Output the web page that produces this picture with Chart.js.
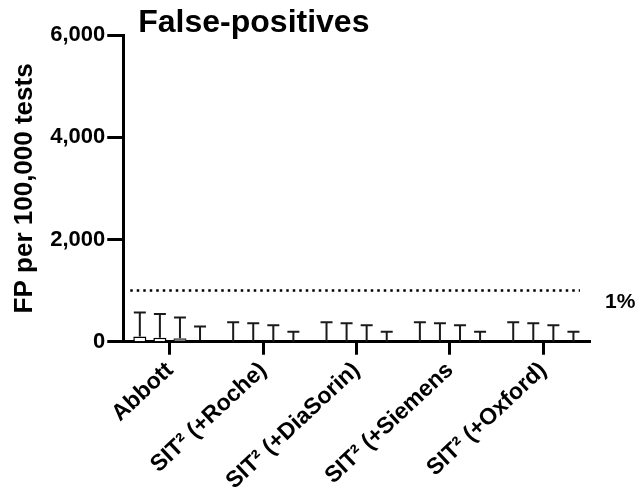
<!DOCTYPE html>
<html>
<head>
<meta charset="utf-8">
<script src="https://cdn.jsdelivr.net/npm/chart.js@4"></script>
<style>
  body { margin: 0; background: #fff; }
  #wrap { width: 635px; height: 497px; position: relative; }
</style>
</head>
<body>
<div id="wrap"><canvas id="fp-chart"></canvas></div>
<script>
// 数据
const categories = ['Abbott', 'SIT² (+Roche)', 'SIT² (+DiaSorin)', 'SIT² (+Siemens', 'SIT² (+Oxford)'];
const fpValues1 = [100, 0, 0, 0, 0];
const fpValues2 = [80, 0, 0, 0, 0];
const fpValues3 = [70, 0, 0, 0, 0];
const fpValues4 = [30, 0, 0, 0, 0];
const fpUpper1 = [570, 380, 380, 380, 380];
const fpUpper2 = [540, 360, 360, 360, 360];
const fpUpper3 = [475, 320, 320, 320, 320];
const fpUpper4 = [300, 196, 196, 196, 196];
const yTicks = [0, 2000, 4000, 6000];
const thresholdValue = 1000;
const thresholdLabel = '1%';
const chartTitle = 'False-positives';
const yTitle = 'FP per 100,000 tests';

const FONT = '"Liberation Sans", Arial, sans-serif';
const upperBounds = [fpUpper1, fpUpper2, fpUpper3, fpUpper4];

// 误差线 + 虚线 + 标题
const extrasPlugin = {
    id: 'extras',
    afterDatasetsDraw(chart) {
        const ctx = chart.ctx;
        const yScale = chart.scales.y;
        const area = chart.chartArea;

        // 误差线
        ctx.save();
        ctx.strokeStyle = '#1a1a1a';
        ctx.lineWidth = 2;
        chart.data.datasets.forEach((ds, di) => {
            const meta = chart.getDatasetMeta(di);
            meta.data.forEach((bar, i) => {
                const top = yScale.getPixelForValue(upperBounds[di][i]);
                ctx.beginPath();
                ctx.moveTo(bar.x, bar.y);
                ctx.lineTo(bar.x, top);
                ctx.moveTo(bar.x - 6, top);
                ctx.lineTo(bar.x + 6, top);
                ctx.stroke();
            });
        });
        ctx.restore();

        // 1% 虚线
        const yLine = yScale.getPixelForValue(thresholdValue);
        ctx.save();
        ctx.strokeStyle = '#000';
        ctx.lineWidth = 2.5;
        ctx.setLineDash([2.5, 4]);
        ctx.beginPath();
        ctx.moveTo(area.left + 7, yLine);
        ctx.lineTo(area.right - 10, yLine);
        ctx.stroke();
        ctx.setLineDash([]);
        ctx.fillStyle = '#000';
        ctx.font = 'bold 21px ' + FONT;
        ctx.textAlign = 'left';
        ctx.textBaseline = 'top';
        ctx.fillText(thresholdLabel, area.right + 15, yLine + 1);

        // 标题
        ctx.font = 'bold 32px ' + FONT;
        ctx.textBaseline = 'alphabetic';
        ctx.fillText(chartTitle, area.left + 15, 32);
        ctx.restore();
    }
};

const ctx = document.getElementById('fp-chart').getContext('2d');
new Chart(ctx, {
    type: 'bar',
    data: {
        labels: categories,
        datasets: [
            { label: 'Series 1', data: fpValues1, backgroundColor: '#ffffff', borderColor: '#000', borderWidth: 1.5 },
            { label: 'Series 2', data: fpValues2, backgroundColor: '#ffffff', borderColor: '#000', borderWidth: 1.5 },
            { label: 'Series 3', data: fpValues3, backgroundColor: '#7a7a7a', borderColor: '#333', borderWidth: 1.5 },
            { label: 'Series 4', data: fpValues4, backgroundColor: '#111111', borderColor: '#000', borderWidth: 1.5 }
        ]
    },
    options: {
        responsive: true,
        maintainAspectRatio: false,
        animation: false,
        categoryPercentage: 0.86,
        barPercentage: 0.65,
        layout: { padding: { top: 35, right: 45, left: 9, bottom: 0 } },
        plugins: {
            legend: { display: false },
            tooltip: { enabled: false }
        },
        scales: {
            x: {
                grid: {
                    drawOnChartArea: false,
                    offset: false,
                    tickLength: 13,
                    tickWidth: 3,
                    tickColor: '#000'
                },
                border: { width: 3, color: '#000' },
                ticks: {
                    autoSkip: false,
                    minRotation: 43,
                    maxRotation: 43,
                    padding: 2,
                    color: '#000',
                    font: { family: FONT, size: 23, weight: 'bold' }
                }
            },
            y: {
                min: 0,
                max: 6000,
                afterBuildTicks(scale) {
                    scale.ticks = yTicks.map(v => ({ value: v }));
                },
                grid: {
                    drawOnChartArea: false,
                    tickLength: 16,
                    tickWidth: 3,
                    tickColor: '#000'
                },
                border: { width: 3, color: '#000' },
                ticks: {
                    padding: 2,
                    color: '#000',
                    font: { family: FONT, size: 22, weight: 'bold' },
                    callback: v => v.toLocaleString('en-US')
                },
                title: {
                    display: true,
                    text: yTitle,
                    color: '#000',
                    padding: { top: 0, bottom: 8 },
                    font: { family: FONT, size: 26, weight: 'bold' }
                }
            }
        }
    },
    plugins: [extrasPlugin]
});
</script>
</body>
</html>
